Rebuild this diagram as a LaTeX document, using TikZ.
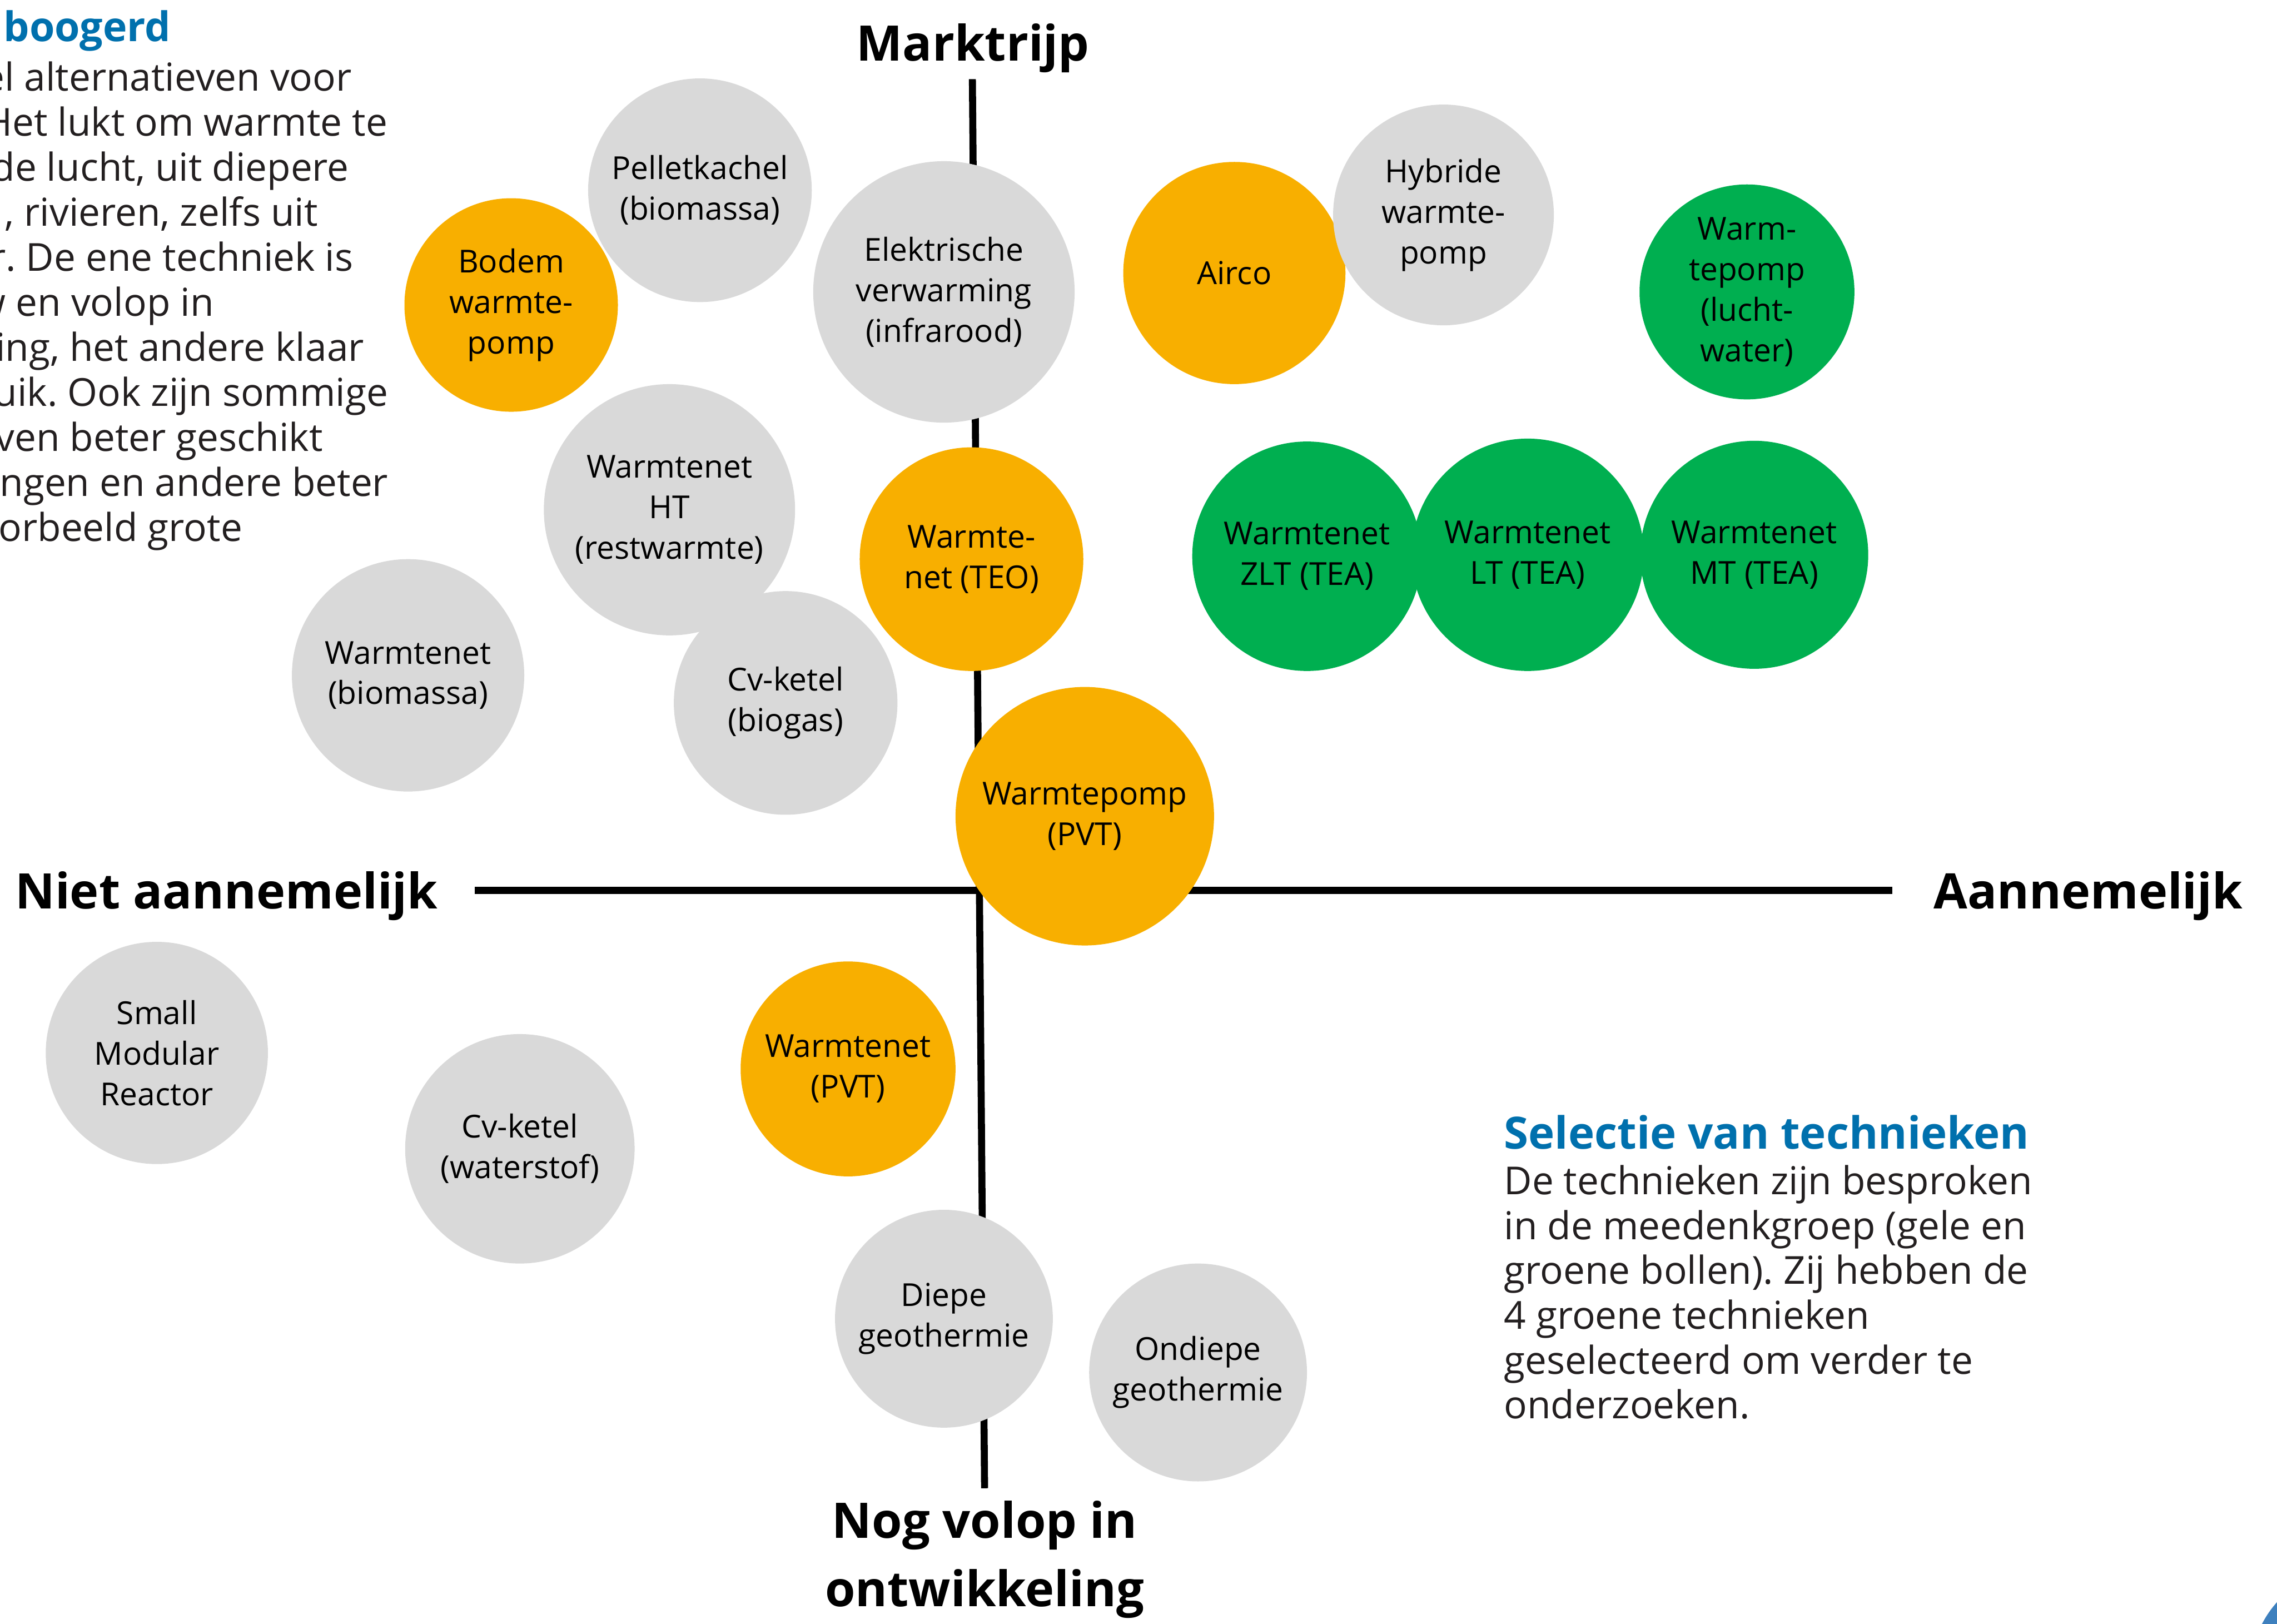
\documentclass[tikz,border=0pt]{standalone}
\usepackage{fontspec}
\setmainfont{Open Sans}
\usetikzlibrary{positioning}
\definecolor{grijs}{RGB}{217,217,217}
\definecolor{oranje}{RGB}{248,175,0}
\definecolor{groen}{RGB}{0,175,80}
\definecolor{kopblauw}{RGB}{0,112,173}
\definecolor{randblauw}{RGB}{62,128,190}
\definecolor{inkt}{RGB}{35,31,32}
\newcommand{\komma}{,}
\frenchspacing
\tikzset{
  bol/.style={circle,inner sep=0pt,align=center,font=\fontsize{6.2}{7.95}\selectfont},
  aslabel/.style={font=\fontsize{9.6}{13.4}\selectfont\bfseries,align=center,inner sep=0pt},
  kop/.style={font=\fontsize{8.7}{10}\selectfont\bfseries,text=kopblauw,inner sep=0pt},
  tekst/.style={font=\fontsize{7.55}{8.8}\selectfont,text=inkt,inner sep=0pt}
}

\begin{document}
\begin{tikzpicture}
  \useasboundingbox (0,0) rectangle (15.68,-11.18);
  % assen
  \coordinate (boven) at (6.696,-0.545);
  \coordinate (onder) at (6.78,-10.247);
  \coordinate (links) at (3.27,-6.13);
  \coordinate (rechts) at (13.03,-6.13);
  \draw[line width=1.37pt] (boven) -- (onder);
  \draw[line width=1.37pt] (links) -- (rechts);
  \node[aslabel] (markt) at (6.70,-0.33) {Marktrijp};
  \node[aslabel] (niet) at (1.56,-6.17) {Niet aannemelijk};
  \node[aslabel] (wel) at (14.38,-6.17) {Aannemelijk};
  \node[aslabel] (nog) at (6.78,-10.74) {Nog volop in\\ontwikkeling};

  % de bollen: x/y/diameter/kleur/naam/tekst
  \foreach \x/\y/\d/\c/\n/\t in {
      4.82/-1.31/1.54/grijs/pellet/Pelletkachel\\(biomassa),
      3.52/-2.10/1.47/oranje/bodem/Bodem\\warmte-\\pomp,
      6.50/-2.01/1.80/grijs/elek/Elektrische\\verwarming\\(infrarood),
      8.50/-1.88/1.53/oranje/airco/Airco,
      9.94/-1.48/1.52/grijs/hybride/Hybride\\warmte-\\pomp,
      12.03/-2.01/1.48/groen/luchtwater/Warm-\\tepomp\\(lucht-\\water),
      4.61/-3.51/1.73/grijs/ht/Warmtenet\\HT\\(restwarmte),
      6.69/-3.85/1.54/oranje/teo/Warmte-\\net (TEO),
      9.00/-3.83/1.58/groen/zlt/Warmtenet\\ZLT (TEA),
      10.52/-3.82/1.60/groen/lt/Warmtenet\\LT (TEA),
      12.08/-3.82/1.57/groen/mt/Warmtenet\\MT (TEA),
      2.81/-4.65/1.60/grijs/biomassa/Warmtenet\\(biomassa),
      5.41/-4.84/1.54/grijs/biogas/Cv-ketel\\(biogas),
      7.47/-5.62/1.78/oranje/wppvt/Warmtepomp\\(PVT),
      1.08/-7.25/1.53/grijs/smr/Small\\Modular\\Reactor,
      3.58/-7.91/1.58/grijs/waterstof/Cv-ketel\\(waterstof),
      5.84/-7.36/1.48/oranje/wnpvt/Warmtenet\\(PVT),
      6.50/-9.08/1.50/grijs/diep/Diepe\\geothermie,
      8.25/-9.45/1.50/grijs/ondiep/Ondiepe\\geothermie}{
    \node[bol,fill=\c,minimum size=\d cm] (\n) at (\x,\y) {\t};
  }

  % inleiding linksboven (valt deels buiten beeld)
  \node[kop,anchor=base west,font=\fontsize{8.0}{10}\selectfont\bfseries] (boogerd) at (0.018,-0.287) {boogerd};
  \foreach \i/\r/\l in {1/2.43/el alternatieven voor,
                        2/2.675/Het lukt om warmte te,
                        3/2.41/de lucht\komma{} uit diepere,
                        4/2.196/\komma{} rivieren\komma{} zelfs uit,
                        5/2.44/r. De ene techniek is,
                        6/1.48/w en volop in,
                        7/2.514/ing\komma{} het andere klaar,
                        8/2.68/uik. Ook zijn sommige,
                        9/2.23/ven beter geschikt,
                        10/2.68/ngen en andere beter,
                        11/1.676/orbeeld grote}{
    \node[tekst,anchor=base east] (intro-\i) at (\r,{-0.626-0.31*(\i-1)}) {\l};
  }

  % selectie rechtsonder
  \node[kop,anchor=base west] (selectie) at (10.35,-7.91) {Selectie van technieken};
  \foreach \i/\l in {1/De technieken zijn besproken,
                     2/in de meedenkgroep (gele en,
                     3/groene bollen). Zij hebben de,
                     4/4 groene technieken,
                     5/geselecteerd om verder te,
                     6/onderzoeken.}{
    \node[tekst,anchor=base west] (sel-\i) at (10.35,{-8.224-0.309*(\i-1)}) {\l};
  }

  % rand van een blauwe vorm in de hoek
  \fill[randblauw] (16.20,-11.50) circle (0.70);
\end{tikzpicture}
\end{document}
